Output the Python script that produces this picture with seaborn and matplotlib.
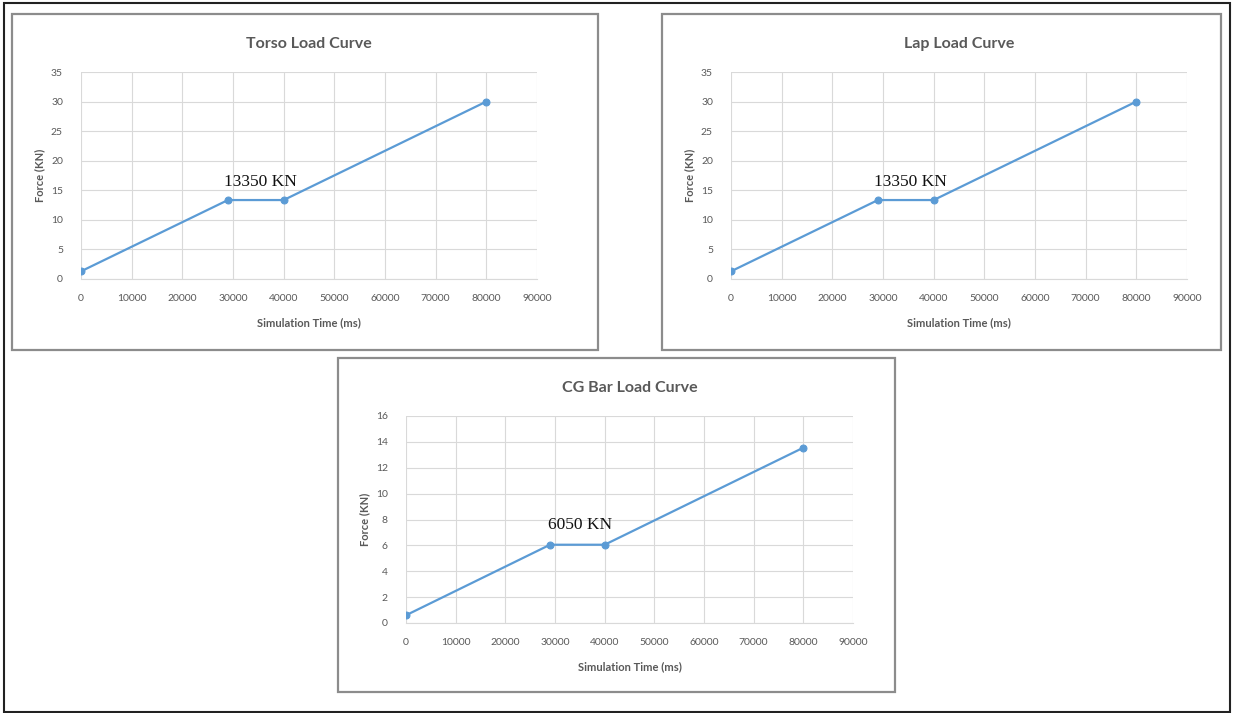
import matplotlib
matplotlib.use("Agg")
import matplotlib.pyplot as plt
import seaborn as sns
import pandas as pd
from matplotlib.patches import Rectangle

# ---- data ----
time_ms = [0, 29000, 40000, 80000]
torso_force = [1.3, 13.35, 13.35, 30.0]
lap_force = [1.3, 13.35, 13.35, 30.0]
cg_force = [0.6, 6.05, 6.05, 13.55]

titles = ["Torso Load Curve", "Lap Load Curve", "CG Bar Load Curve"]
annotations = ["13350 KN", "13350 KN", "6050 KN"]
x_ticks = [0, 10000, 20000, 30000, 40000, 50000, 60000, 70000, 80000, 90000]
y_ticks_big = [0, 5, 10, 15, 20, 25, 30, 35]
y_ticks_cg = [0, 2, 4, 6, 8, 10, 12, 14, 16]
x_label = "Simulation Time (ms)"
y_label = "Force (KN)"

sns.set_theme(style="white")
plt.rcParams['font.family'] = ['Lato', 'DejaVu Sans']

W, H = 1233, 713
fig = plt.figure(figsize=(W / 100, H / 100), dpi=100)
fig.patch.set_facecolor("white")

def frect(l, t, r, b):
    return [l / W, 1 - b / H, (r - l) / W, (b - t) / H]

# outer border
fig.patches.append(Rectangle((4 / W, 1 / H), (1230 - 4) / W, (710 - 1) / H,
                             transform=fig.transFigure, fill=False,
                             edgecolor="#222222", linewidth=1.5))
# panel borders
panels = [(12, 14, 598, 350), (662, 14, 1221, 350), (338, 358, 895, 692)]
for (l, t, r, b) in panels:
    fig.patches.append(Rectangle((l / W, 1 - b / H), (r - l) / W, (b - t) / H,
                                 transform=fig.transFigure, fill=False,
                                 edgecolor="#8c8c8c", linewidth=1.6))

plot_areas = [(81, 72, 537, 279), (731, 72, 1187, 279), (406, 416, 853, 623)]
series = [torso_force, lap_force, cg_force]
yticks_list = [y_ticks_big, y_ticks_big, y_ticks_cg]
ann_pos = [(35500, 16.4), (35500, 16.4), (35000, 7.6)]

line_color = "#5b9bd5"
text_gray = "#595959"

for i in range(3):
    ax = fig.add_axes(frect(*plot_areas[i]))
    df = pd.DataFrame({"t": time_ms, "f": series[i]})
    sns.lineplot(data=df, x="t", y="f", ax=ax, color=line_color, linewidth=1.6,
                 marker="o", markersize=5, markeredgecolor=line_color)
    yt = yticks_list[i]
    ax.set_xlim(0, 90000)
    ax.set_ylim(yt[0], yt[-1])
    ax.set_xticks(x_ticks)
    ax.set_xticklabels([str(v) for v in x_ticks])
    ax.set_yticks(yt)
    ax.set_yticklabels([str(v) for v in yt])
    ax.grid(True, color="#d9d9d9", linewidth=0.8)
    ax.set_axisbelow(True)
    for s in ["top", "right", "left"]:
        ax.spines[s].set_visible(False)
    ax.spines["bottom"].set_color("#d9d9d9")
    ax.spines["bottom"].set_linewidth(0.8)
    ax.tick_params(axis="x", length=0, labelsize=7.5, labelcolor=text_gray, pad=11)
    ax.tick_params(axis="y", length=0, labelsize=7.5, labelcolor=text_gray, pad=13)
    ax.set_xlabel(x_label, fontsize=8, fontweight="bold", color=text_gray, labelpad=10)
    ax.set_ylabel(y_label, fontsize=8, fontweight="bold", color=text_gray, labelpad=4)
    ax.set_title(titles[i], fontsize=11.5, fontweight="bold", color=text_gray, pad=17)
    ax.text(ann_pos[i][0], ann_pos[i][1], annotations[i], ha="center", va="center",
            fontsize=12.5, color="#111111", family="Liberation Serif")

fig.savefig("out.png", dpi=100, facecolor="white")
